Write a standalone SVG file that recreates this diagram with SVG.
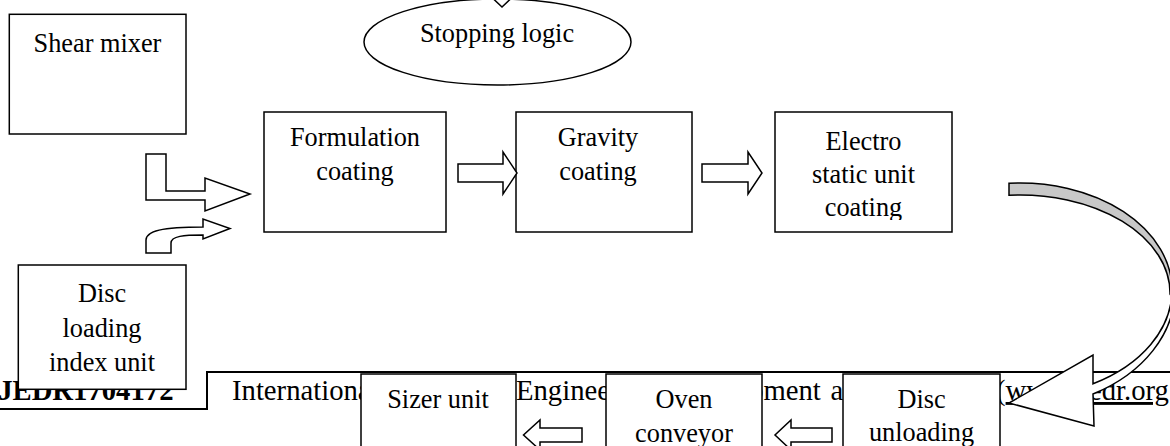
<svg xmlns="http://www.w3.org/2000/svg" width="1170" height="446" viewBox="0 0 1170 446">
<style>
.box{fill:#fff;stroke:#000;stroke-width:1.5}
.t{font-family:"Liberation Serif","Times New Roman",serif;font-size:26.3px;fill:#000;text-anchor:middle}
.h{font-family:"Liberation Serif","Times New Roman",serif;font-size:28.7px;fill:#000}
.arr{fill:#fff;stroke:#000;stroke-width:1.5;stroke-linejoin:miter}
.rule{fill:none;stroke:#000;stroke-width:2}
</style>
<defs>
<clipPath id="clipE"><rect x="775" y="112" width="177" height="108"/></clipPath>
</defs>
<rect width="1170" height="446" fill="#fff"/>
<g id="page-header">
<path class="rule" d="M0,409 H207 V372 H1170"/>
<text class="h" x="-13" y="400" font-weight="bold">IJEDR1704172</text>
<text class="h" y="400"><tspan x="232">International</tspan><tspan x="388.4">Journal</tspan><tspan x="482.6">of</tspan><tspan x="516">Engineering</tspan><tspan x="666.3">Development</tspan><tspan x="830.4">and</tspan><tspan x="881.3">Research</tspan><tspan x="996">(</tspan></text>
<text class="h" x="1005.6" y="400" fill="#0000ff" text-decoration="underline">www.ijedr.org</text>
</g>
<g id="shear-mixer">
<rect class="box" x="9.3" y="14.3" width="176.7" height="119.7"/>
<text class="t" x="97.5" y="51.7">Shear mixer</text>
</g>
<g id="stopping-logic">
<ellipse class="box" cx="497.5" cy="42" rx="133.5" ry="43"/>
<text class="t" x="497" y="42">Stopping logic</text>
</g>
<g id="formulation-coating">
<rect class="box" x="264" y="112" width="182" height="120"/>
<text class="t" x="355" y="146">Formulation</text>
<text class="t" x="355" y="180">coating</text>
</g>
<g id="gravity-coating">
<rect class="box" x="516" y="112" width="176" height="120"/>
<text class="t" x="598" y="146">Gravity</text>
<text class="t" x="598" y="180">coating</text>
</g>
<g id="electro-static-unit-coating">
<rect class="box" x="775" y="112" width="177" height="120"/>
<g clip-path="url(#clipE)">
<text class="t" x="863.5" y="150">Electro</text>
<text class="t" x="863.5" y="183">static unit</text>
<text class="t" x="863.5" y="216">coating</text>
</g>
</g>
<g id="disc-loading-index-unit">
<rect class="box" x="18.3" y="265" width="167.7" height="124.3"/>
<text class="t" x="102" y="302">Disc</text>
<text class="t" x="102" y="337">loading</text>
<text class="t" x="102" y="371">index unit</text>
</g>
<g id="sizer-unit">
<rect class="box" x="361" y="374" width="155" height="90"/>
<text class="t" x="438" y="408">Sizer unit</text>
</g>
<g id="oven-conveyor">
<rect class="box" x="606" y="374" width="156" height="90"/>
<text class="t" x="684" y="408">Oven</text>
<text class="t" x="684" y="442">conveyor</text>
</g>
<g id="disc-unloading">
<rect class="box" x="843" y="374" width="157" height="90"/>
<text class="t" x="921.5" y="408">Disc</text>
<text class="t" x="921.5" y="441">unloading</text>
</g>
<g id="connectors">
<polygon class="arr" points="484,-10 502,7 520,-10"/>
<polygon class="arr" points="146,154 166,154 166,191 205,191 205,178 250,194 205,211 205,200 146,200"/>
<path class="arr" d="M146,253 V240 C146,231 162,227 203,227 V219 L230,228.5 L203,239 V235 C184,235 171,236 171,243 V253 Z"/>
<polygon class="arr" points="458,164 503,164 503,152 517,173 503,194 503,182 458,182"/>
<polygon class="arr" points="702,164 748,164 748,152 762,173 748,194 748,182 702,182"/>
<polygon class="arr" points="582,428 540,428 540,420 523.5,435 540,450 540,442 582,442"/>
<polygon class="arr" points="832,428 791,428 791,420 775,435 791,450 791,442 832,442"/>
<path fill="#c8c8c8" stroke="#000" stroke-width="1.5" d="M1009,183.3 A152,107 0 0 1 1172,290 L1170,293 A150,98 0 0 0 1009,195.3 Z"/>
<path class="arr" d="M1172,290 A152,107 0 0 1 1093,383.8 L1093,355 L1009,403 L1094,426 L1093,394 A155,118 0 0 0 1175,290 Z"/>
</g>
</svg>
